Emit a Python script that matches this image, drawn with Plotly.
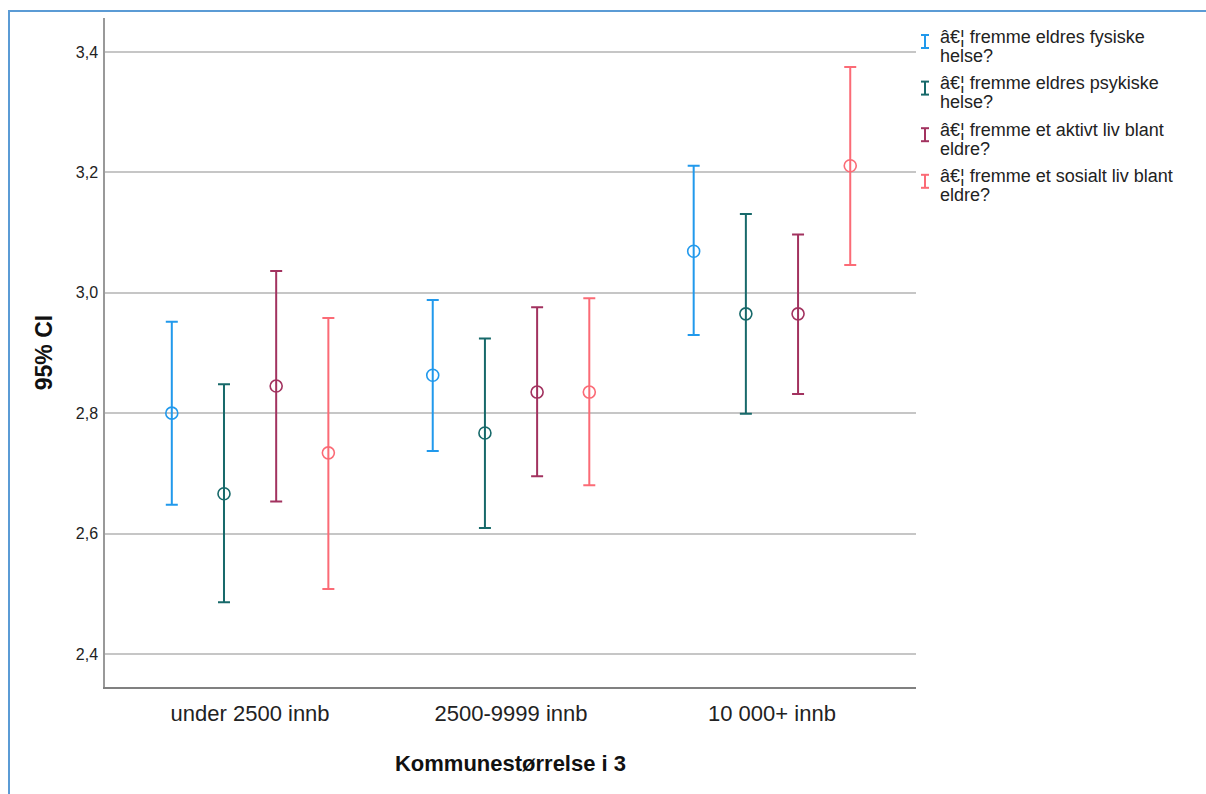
import plotly.graph_objects as go

categories = ["under 2500 innb", "2500-9999 innb", "10 000+ innb"]
series_names = [
    "â€¦ fremme eldres fysiske helse?",
    "â€¦ fremme eldres psykiske helse?",
    "â€¦ fremme et aktivt liv blant eldre?",
    "â€¦ fremme et sosialt liv blant eldre?",
]
legend_lines = [
    ("â€¦ fremme eldres fysiske", "helse?"),
    ("â€¦ fremme eldres psykiske", "helse?"),
    ("â€¦ fremme et aktivt liv blant", "eldre?"),
    ("â€¦ fremme et sosialt liv blant", "eldre?"),
]

# means, upper CI, lower CI per series (one value per category)
fysisk_mean = [2.800, 2.863, 3.069]
fysisk_upper = [2.952, 2.988, 3.211]
fysisk_lower = [2.648, 2.737, 2.930]

psykisk_mean = [2.666, 2.767, 2.965]
psykisk_upper = [2.848, 2.924, 3.131]
psykisk_lower = [2.486, 2.609, 2.799]

aktivt_mean = [2.845, 2.835, 2.965]
aktivt_upper = [3.036, 2.976, 3.097]
aktivt_lower = [2.653, 2.695, 2.832]

sosialt_mean = [2.734, 2.835, 3.211]
sosialt_upper = [2.958, 2.991, 3.375]
sosialt_lower = [2.508, 2.680, 3.046]

means = [fysisk_mean, psykisk_mean, aktivt_mean, sosialt_mean]
uppers = [fysisk_upper, psykisk_upper, aktivt_upper, sosialt_upper]
lowers = [fysisk_lower, psykisk_lower, aktivt_lower, sosialt_lower]

colors = ["#2199ec", "#17696a", "#a2325f", "#fb6b76"]
offsets = [-0.3, -0.1, 0.1, 0.3]

FONT = "Liberation Sans, Arial, sans-serif"

fig = go.Figure()
for i in range(4):
    xs = [k + offsets[i] for k in range(len(categories))]
    plus = [u - m for u, m in zip(uppers[i], means[i])]
    minus = [m - l for m, l in zip(means[i], lowers[i])]
    fig.add_trace(go.Scatter(
        x=xs, y=means[i], mode="markers", name=series_names[i],
        marker=dict(symbol="circle-open", size=12, color=colors[i],
                    line=dict(width=1.6, color=colors[i])),
        error_y=dict(type="data", symmetric=False, array=plus, arrayminus=minus,
                     color=colors[i], thickness=2, width=6),
        showlegend=False,
    ))

W, H = 1206, 794
L, R, T, B = 105, 916, 18, 687


def px_x(X):
    return (X - L) / (R - L)


def px_y(Y):
    return (B - Y) / (B - T)


shapes = []
annotations = []
# legend
for i in range(4):
    cy = 41.5 + i * 46.6
    for (x0, y0, x1, y1) in [(925, cy - 6.5, 925, cy + 6.5),
                             (921, cy - 6.5, 929, cy - 6.5),
                             (921, cy + 6.5, 929, cy + 6.5)]:
        shapes.append(dict(type="line", xref="paper", yref="paper",
                           x0=px_x(x0), x1=px_x(x1), y0=px_y(y0), y1=px_y(y1),
                           line=dict(color=colors[i], width=2)))
    l1, l2 = legend_lines[i]
    for j, txt in enumerate((l1, l2)):
        annotations.append(dict(
            text=txt, xref="paper", yref="paper", x=px_x(938), y=px_y(cy - 5 + j * 19),
            xanchor="left", yanchor="middle", showarrow=False,
            font=dict(family=FONT, size=18, color="#222222")))

# blue frame (left and top edges visible)
shapes.append(dict(type="rect", xref="paper", yref="paper",
                   x0=px_x(9), x1=px_x(1400), y0=px_y(1000), y1=px_y(11),
                   line=dict(color="#5b9bd5", width=2), fillcolor="rgba(0,0,0,0)",
                   layer="above"))

fig.update_layout(
    width=W, height=H,
    margin=dict(l=L, r=W - R, t=T, b=H - B),
    paper_bgcolor="white", plot_bgcolor="white",
    separators=",.",
    font=dict(family=FONT, color="#222222"),
    shapes=shapes, annotations=annotations,
    xaxis=dict(
        range=[-0.556, 2.552], tickvals=[0, 1, 2], ticktext=categories,
        showgrid=False, zeroline=False,
        showline=True, linecolor="#808080", linewidth=2,
        ticks="outside", ticklen=6, tickcolor="rgba(0,0,0,0)",
        tickfont=dict(family=FONT, size=22, color="#222222"),
        title=dict(text="<b>Kommunestørrelse i 3</b>", standoff=30,
                   font=dict(family=FONT, size=22, color="#111111")),
    ),
    yaxis=dict(
        range=[2.345, 3.4565], tickvals=[2.4, 2.6, 2.8, 3.0, 3.2, 3.4],
        tickformat=".1f",
        showgrid=True, gridcolor="#c6c6c6", gridwidth=1.5, zeroline=False,
        showline=True, linecolor="#999999", linewidth=1.5,
        ticks="outside", ticklen=2, tickcolor="rgba(0,0,0,0)",
        tickfont=dict(family=FONT, size=16, color="#222222"),
        title=dict(text="<b>95% CI</b>", standoff=17,
                   font=dict(family=FONT, size=23, color="#111111")),
    ),
)

fig.write_html("out.html")
